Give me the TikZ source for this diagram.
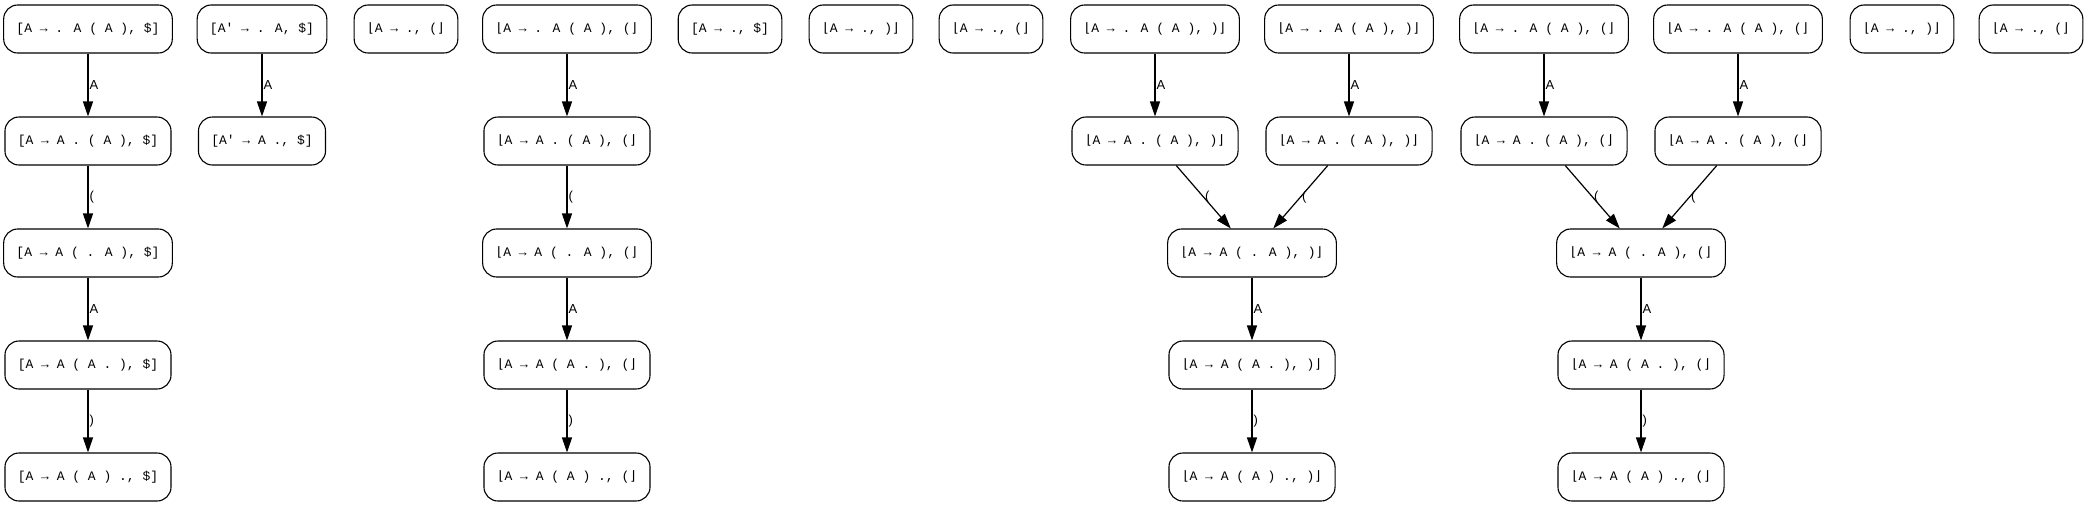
\documentclass[tikz,border=0pt]{standalone}
\usepackage{fontspec}
\usepackage{tikz}
\usetikzlibrary{arrows.meta, positioning}

\newfontfamily\itemfont{Liberation Mono}
\newfontfamily\brfont{DejaVu Sans Mono}
\newfontfamily\lblfont{Liberation Sans}
\newcommand{\lb}{{\brfont ⌊}}
\newcommand{\rb}{{\brfont ⌋}}

\begin{document}
\begin{tikzpicture}[
    x=1pt, y=-1pt,
    item/.style={draw, rectangle, rounded corners=14pt, minimum height=48pt, inner xsep=12.8pt, line width=1.1pt, font=\itemfont\fontsize{13}{15}\selectfont},
    arrow/.style={-{Triangle[length=15pt,width=10pt]}, line width=1.2pt},
    lbl/.style={right, inner sep=1pt, font=\lblfont\fontsize{13}{15}\selectfont}
]
\useasboundingbox (0,0) rectangle (2088,507);

% $ lookahead chain
\node[item] (s1) at (88,29) {[A → . A ( A ), \$]};
\node[item] (s2) at (88,141) {[A → A . ( A ), \$]};
\node[item] (s3) at (88,253) {[A → A ( . A ), \$]};
\node[item] (s4) at (88,365) {[A → A ( A . ), \$]};
\node[item] (s5) at (88,477) {[A → A ( A ) ., \$]};

% start item
\node[item] (st1) at (262,29) {[A\textquotesingle{} → . A, \$]};
\node[item] (st2) at (262,141) {[A\textquotesingle{} → A ., \$]};

% ( lookahead chain
\node[item] (e1) at (406,29) {\lb A → ., (\rb};
\node[item] (p1) at (567,29) {\lb A → . A ( A ), (\rb};
\node[item] (p2) at (567,141) {\lb A → A . ( A ), (\rb};
\node[item] (p3) at (567,253) {\lb A → A ( . A ), (\rb};
\node[item] (p4) at (567,365) {\lb A → A ( A . ), (\rb};
\node[item] (p5) at (567,477) {\lb A → A ( A ) ., (\rb};

% empty items
\node[item] (e2) at (730,29) {[A → ., \$]};
\node[item] (e3) at (861,29) {\lb A → ., )\rb};
\node[item] (e4) at (991,29) {\lb A → ., (\rb};

% ) lookahead, merged
\node[item] (q1) at (1155,29) {\lb A → . A ( A ), )\rb};
\node[item] (r1) at (1349,29) {\lb A → . A ( A ), )\rb};
\node[item] (q2) at (1155,141) {\lb A → A . ( A ), )\rb};
\node[item] (r2) at (1349,141) {\lb A → A . ( A ), )\rb};
\node[item] (q3) at (1252,253) {\lb A → A ( . A ), )\rb};
\node[item] (q4) at (1252,365) {\lb A → A ( A . ), )\rb};
\node[item] (q5) at (1252,477) {\lb A → A ( A ) ., )\rb};

% ( lookahead, merged
\node[item] (u1) at (1544,29) {\lb A → . A ( A ), (\rb};
\node[item] (v1) at (1738,29) {\lb A → . A ( A ), (\rb};
\node[item] (u2) at (1544,141) {\lb A → A . ( A ), (\rb};
\node[item] (v2) at (1738,141) {\lb A → A . ( A ), (\rb};
\node[item] (u3) at (1641,253) {\lb A → A ( . A ), (\rb};
\node[item] (u4) at (1641,365) {\lb A → A ( A . ), (\rb};
\node[item] (u5) at (1641,477) {\lb A → A ( A ) ., (\rb};

\node[item] (e5) at (1902,29) {\lb A → ., )\rb};
\node[item] (e6) at (2031,29) {\lb A → ., (\rb};

% Arrows
\draw[arrow] (s1) -- node[lbl] {A} (s2);
\draw[arrow] (s2) -- node[lbl] {(} (s3);
\draw[arrow] (s3) -- node[lbl] {A} (s4);
\draw[arrow] (s4) -- node[lbl] {)} (s5);

\draw[arrow] (st1) -- node[lbl] {A} (st2);

\draw[arrow] (p1) -- node[lbl] {A} (p2);
\draw[arrow] (p2) -- node[lbl] {(} (p3);
\draw[arrow] (p3) -- node[lbl] {A} (p4);
\draw[arrow] (p4) -- node[lbl] {)} (p5);

\draw[arrow] (q1) -- node[lbl] {A} (q2);
\draw[arrow] (r1) -- node[lbl] {A} (r2);
\draw[arrow] (q2) -- node[lbl] {(} (q3);
\draw[arrow] (r2) -- node[lbl] {(} (q3);
\draw[arrow] (q3) -- node[lbl] {A} (q4);
\draw[arrow] (q4) -- node[lbl] {)} (q5);

\draw[arrow] (u1) -- node[lbl] {A} (u2);
\draw[arrow] (v1) -- node[lbl] {A} (v2);
\draw[arrow] (u2) -- node[lbl] {(} (u3);
\draw[arrow] (v2) -- node[lbl] {(} (u3);
\draw[arrow] (u3) -- node[lbl] {A} (u4);
\draw[arrow] (u4) -- node[lbl] {)} (u5);

\end{tikzpicture}
\end{document}
